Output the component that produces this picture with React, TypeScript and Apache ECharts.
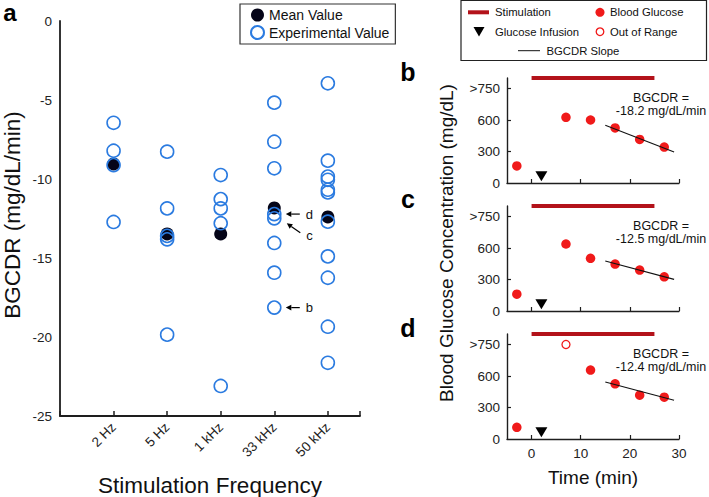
import React, { useEffect, useRef } from 'react';
import * as echarts from 'echarts';

// ---------- Panel a data ----------
const freqLabels = ['2 Hz', '5 Hz', '1 kHz', '33 kHz', '50 kHz'];
const exp2Hz = [-6.44, -8.21, -9.12, -12.72];
const exp5Hz = [-8.27, -11.86, -13.6, -13.82, -19.85];
const exp1kHz = [-9.75, -11.27, -11.86, -12.8, -23.1];
const exp33kHz = [-5.17, -7.64, -9.32, -12.22, -12.49, -14.05, -15.93, -18.14];
const exp50kHz = [-3.94, -8.84, -9.85, -10.05, -10.68, -10.85, -12.7, -14.9, -16.25, -19.35, -21.63];
const meanValues = [-9.05, -13.48, -13.48, -11.83, -12.4];
const yTicksA = [0, -5, -10, -15, -20, -25];
// annotated points (33 kHz): label, value
const annotLabels = ['d', 'c', 'b'];
const annotValues = [-12.22, -12.49, -18.14];

// ---------- Panels b, c, d data ----------
const sampleTimes = [-3, 7, 12, 17, 22, 27];
const glucoseB = [163, 626, 600, 524, 415, 342];
const glucoseC = [160, 638, 502, 447, 390, 326];
const glucoseD = [111, null, 657, 526, 417, 398];
const outOfRangeTimesD = [7];
const outOfRangeValue = 900; // plotted at the ">750" row
const infusionTime = 2;
const infusionMarkerValue = 65;
const stimulationSpan = [0, 25];
const stimulationLevel = 1000;
const slopeRates = [-18.2, -12.5, -12.4];
const slopeStartValues = [550, 476, 542];
const slopeSpan = [15, 29];
const bgcdrTexts = ['-18.2 mg/dL/min', '-12.5 mg/dL/min', '-12.4 mg/dL/min'];
const panelLetters = ['b', 'c', 'd'];
const glucoseTickValues = [0, 300, 600, 900];
const glucoseTickLabels = ['0', '300', '600', '>750'];
const timeTickValues = [0, 10, 20, 30];

const FONT = 'Liberation Sans, Arial, Helvetica, sans-serif';
const BLUE = '#2b7be0';
const MEAN = '#050518';
const RED = '#f01a1a';
const DARKRED = '#b3121a';
const AXIS = '#1e1e1e';
const LABEL = '#222';

export default function App() {
  const ref = useRef<HTMLDivElement>(null);

  useEffect(() => {
    const chart = echarts.init(ref.current!, null, { renderer: 'svg' });

    const expGroups = [exp2Hz, exp5Hz, exp1kHz, exp33kHz, exp50kHz];
    const expData: number[][] = [];
    expGroups.forEach((g, i) => g.forEach((v) => expData.push([i + 1, v])));
    const meanData = meanValues.map((v, i) => [i + 1, v]);

    const panelTops = [78, 206, 334];
    const panelH = 105;
    const panelLeft = 507;
    const panelW = 172;
    const glucoseSets = [glucoseB, glucoseC, glucoseD];

    const grids: any[] = [{ left: 60, top: 21, width: 300, height: 395 }];
    const xAxes: any[] = [
      {
        type: 'value',
        gridIndex: 0,
        min: 0,
        max: 5.6,
        interval: 1,
        splitLine: { show: false },
        axisLine: { show: true, onZero: false, lineStyle: { color: AXIS, width: 1.8 } },
        axisTick: { inside: true, length: 5, lineStyle: { color: AXIS, width: 1.5 } },
        axisLabel: {
          rotate: 45,
          margin: 9,
          fontSize: 13.5,
          color: LABEL,
          fontFamily: FONT,
          formatter: (v: number) => (v >= 1 && v <= 5 && Number.isInteger(v) ? freqLabels[v - 1] : ''),
        },
      },
    ];
    const yAxes: any[] = [
      {
        type: 'value',
        gridIndex: 0,
        min: -25,
        max: 0,
        interval: 5,
        splitLine: { show: false },
        axisLine: { show: true, onZero: false, lineStyle: { color: AXIS, width: 1.8 } },
        axisTick: { show: false },
        axisLabel: { margin: 8, fontSize: 13.5, color: LABEL, fontFamily: FONT,
          formatter: (v: number) => (yTicksA.includes(v) ? String(v) : '') },
      },
    ];

    const series: any[] = [
      {
        name: 'Mean Value',
        type: 'scatter',
        xAxisIndex: 0,
        yAxisIndex: 0,
        symbol: 'circle',
        symbolSize: 13,
        itemStyle: { color: MEAN, opacity: 1 },
        data: meanData,
      },
      {
        name: 'Experimental Value',
        type: 'scatter',
        xAxisIndex: 0,
        yAxisIndex: 0,
        symbol: 'circle',
        symbolSize: 13,
        itemStyle: { color: 'rgba(255,255,255,0)', borderColor: BLUE, borderWidth: 1.6, opacity: 1 },
        data: expData,
      },
    ];

    panelTops.forEach((top, p) => {
      const gi = p + 1;
      grids.push({ left: panelLeft, top, width: panelW, height: panelH });
      xAxes.push({
        type: 'value',
        gridIndex: gi,
        min: -5,
        max: 30,
        splitLine: { show: false },
        axisLine: { show: true, onZero: false, lineStyle: { color: AXIS, width: 1.4 } },
        axisTick: { inside: true, length: 4, customValues: timeTickValues, lineStyle: { color: AXIS, width: 1.2 } },
        axisLabel: {
          show: p === 2,
          customValues: timeTickValues,
          margin: 7,
          fontSize: 13.5,
          color: LABEL,
          fontFamily: FONT,
          formatter: (v: number) => (timeTickValues.includes(v) ? String(v) : ''),
        },
      });
      yAxes.push({
        type: 'value',
        gridIndex: gi,
        min: 0,
        max: 1000,
        splitLine: { show: false },
        axisLine: { show: true, onZero: false, lineStyle: { color: AXIS, width: 1.4 } },
        axisTick: { show: true, inside: true, length: 4, customValues: glucoseTickValues.slice(1), lineStyle: { color: AXIS, width: 1.2 } },
        axisLabel: {
          customValues: glucoseTickValues,
          margin: 7,
          fontSize: 13.5,
          color: LABEL,
          fontFamily: FONT,
          formatter: (v: number) => {
            const k = glucoseTickValues.indexOf(v);
            return k >= 0 ? glucoseTickLabels[k] : '';
          },
        },
      });
      // stimulation bar
      series.push({
        type: 'line',
        xAxisIndex: gi,
        yAxisIndex: gi,
        clip: false,
        symbol: 'none',
        lineStyle: { color: DARKRED, width: 4 },
        data: stimulationSpan.map((t) => [t, stimulationLevel]),
        z: 3,
      });
      // glucose infusion
      series.push({
        type: 'scatter',
        xAxisIndex: gi,
        yAxisIndex: gi,
        symbol: 'triangle',
        symbolRotate: 180,
        symbolSize: [12, 10],
        itemStyle: { color: '#000', opacity: 1 },
        data: [[infusionTime, infusionMarkerValue]],
      });
      // blood glucose
      const gData: number[][] = [];
      glucoseSets[p].forEach((v, i) => {
        if (v !== null) gData.push([sampleTimes[i], v as number]);
      });
      series.push({
        type: 'scatter',
        xAxisIndex: gi,
        yAxisIndex: gi,
        symbol: 'circle',
        symbolSize: 9.5,
        itemStyle: { color: RED, opacity: 1 },
        data: gData,
      });
      if (p === 2) {
        series.push({
          type: 'scatter',
          xAxisIndex: gi,
          yAxisIndex: gi,
          symbol: 'circle',
          symbolSize: 8,
          itemStyle: { color: '#fff', borderColor: RED, borderWidth: 1.3, opacity: 1 },
          data: outOfRangeTimesD.map((t) => [t, outOfRangeValue]),
        });
      }
      // slope line
      series.push({
        type: 'line',
        xAxisIndex: gi,
        yAxisIndex: gi,
        symbol: 'none',
        lineStyle: { color: '#111', width: 1.1 },
        data: slopeSpan.map((t) => [t, slopeStartValues[p] + slopeRates[p] * (t - slopeSpan[0])]),
        z: 4,
      });
    });

    chart.setOption({
      animation: false,
      textStyle: { fontFamily: FONT },
      grid: grids,
      xAxis: xAxes,
      yAxis: yAxes,
      legend: {
        data: ['Mean Value', 'Experimental Value'],
        orient: 'vertical',
        left: 240,
        top: 4,
        borderColor: '#333',
        borderWidth: 1.2,
        borderRadius: 0,
        padding: [4, 6, 4, 10],
        itemGap: 3,
        itemWidth: 13,
        itemHeight: 13,
        selectedMode: false,
        textStyle: { fontSize: 14, color: '#111', fontFamily: FONT },
      },
      series,
    });

    // ---------- graphics (titles, letters, annotations, right legend) ----------
    const g: any[] = [];
    const txt = (text: string, x: number, y: number, fs: number, opts: any = {}) => ({
      type: 'text',
      x,
      y,
      rotation: opts.rotation || 0,
      style: {
        text,
        fontSize: fs,
        fontFamily: FONT,
        fontWeight: opts.bold ? 'bold' : 'normal',
        fill: opts.fill || '#111',
        align: opts.align || 'center',
        verticalAlign: 'middle',
      },
      z: 10,
    });

    g.push(txt('a', 10, 12.5, 24, { bold: true, fill: '#000' }));
    g.push(txt('BGCDR (mg/dL/min)', 12, 215, 22.5, { rotation: Math.PI / 2 }));
    g.push(txt('Stimulation Frequency', 210, 485, 22.5));
    g.push(txt('Blood Glucose Concentration (mg/dL)', 446, 243, 19, { rotation: Math.PI / 2 }));
    g.push(txt('Time (min)', 593, 477, 19));

    panelTops.forEach((top, p) => {
      const bottom = top + panelH;
      g.push(txt(panelLetters[p], 408, [71.5, 198.5, 328][p], 25, { bold: true, fill: '#000' }));
      g.push(txt('BGCDR =', 661, bottom - 85, 12.5));
      g.push(txt(bgcdrTexts[p], 661, bottom - 72.5, 12.5));
    });

    // arrows to annotated points
    const arrow = (x1: number, y1: number, x2: number, y2: number) => {
      const dx = x2 - x1;
      const dy = y2 - y1;
      const len = Math.sqrt(dx * dx + dy * dy);
      const ux = dx / len;
      const uy = dy / len;
      const hl = 5.5;
      const hw = 2.8;
      const bx = x2 - ux * hl;
      const by = y2 - uy * hl;
      return [
        { type: 'line', shape: { x1, y1, x2: bx, y2: by }, style: { stroke: '#000', lineWidth: 1.2 }, z: 10 },
        {
          type: 'polygon',
          shape: { points: [[x2, y2], [bx - uy * hw, by + ux * hw], [bx + uy * hw, by - ux * hw]] },
          style: { fill: '#000' },
          z: 10,
        },
      ];
    };
    annotLabels.forEach((lab, i) => {
      const [px, py] = chart.convertToPixel({ xAxisIndex: 0, yAxisIndex: 0 }, [4, annotValues[i]]) as number[];
      if (lab === 'c') {
        g.push(...arrow(px + 26, py + 14.5, px + 12.5, py + 5));
        g.push(txt('c', px + 32, py + 17, 13, { align: 'left' }));
      } else {
        g.push(...arrow(px + 25.5, py, px + 11.5, py));
        g.push(txt(lab, px + 31.5, py, 13, { align: 'left' }));
      }
    });

    // right legend
    const ly = [12.3, 31.7, 50.7];
    g.push({ type: 'rect', shape: { x: 461, y: 0.5, width: 245.5, height: 60 }, style: { fill: 'none', stroke: '#222', lineWidth: 1.2 }, z: 10 });
    g.push({ type: 'line', shape: { x1: 468, y1: ly[0], x2: 489, y2: ly[0] }, style: { stroke: DARKRED, lineWidth: 4 }, z: 10 });
    g.push(txt('Stimulation', 495, ly[0], 11.3, { align: 'left' }));
    g.push({ type: 'circle', shape: { cx: 600, cy: ly[0], r: 4.5 }, style: { fill: RED }, z: 10 });
    g.push(txt('Blood Glucose', 610, ly[0], 11.3, { align: 'left' }));
    g.push({ type: 'polygon', shape: { points: [[473.5, 27], [484.5, 27], [479, 36.5]] }, style: { fill: '#000' }, z: 10 });
    g.push(txt('Glucose Infusion', 495, ly[1], 11.3, { align: 'left' }));
    g.push({ type: 'circle', shape: { cx: 600, cy: ly[1], r: 3.8 }, style: { fill: '#fff', stroke: RED, lineWidth: 1.3 }, z: 10 });
    g.push(txt('Out of Range', 610, ly[1], 11.3, { align: 'left' }));
    g.push({ type: 'line', shape: { x1: 518, y1: ly[2], x2: 540, y2: ly[2] }, style: { stroke: '#111', lineWidth: 1 }, z: 10 });
    g.push(txt('BGCDR Slope', 546.5, ly[2], 11.3, { align: 'left' }));

    chart.setOption({ graphic: g });

    return () => chart.dispose();
  }, []);

  return (
    <div
      ref={ref}
      style={{ position: 'fixed', left: 0, top: 0, width: 709, height: 497, background: '#fff' }}
    />
  );
}
